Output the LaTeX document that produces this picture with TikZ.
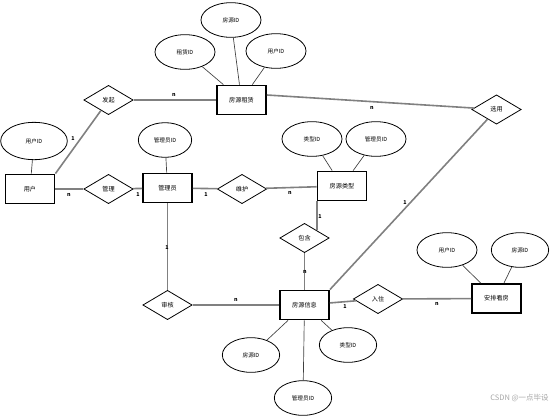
\documentclass[tikz,border=0pt]{standalone}
\usepackage{fontspec}
\newfontfamily\cjk{Noto Sans CJK SC}
\usetikzlibrary{shapes.geometric}

\tikzset{every picture/.style={line width=0.75pt}}
\tikzset{
  entity/.style={draw, line width=1.1pt, minimum width=37pt, minimum height=22pt, inner sep=0pt, font=\cjk\fontsize{4.6}{5}\selectfont},
  attr/.style={draw, ellipse, line width=0.6pt, minimum width=45pt, minimum height=26pt, inner sep=0pt, font=\cjk\fontsize{4.2}{5}\selectfont},
  rel/.style={draw, diamond, line width=0.6pt, minimum width=37pt, minimum height=22pt, inner sep=0pt, font=\cjk\fontsize{4.6}{5}\selectfont},
  conn/.style={draw=gray, line width=1.2pt},
  alink/.style={draw=black!75, line width=0.5pt},
  card/.style={inner sep=0pt, font=\cjk\bfseries\fontsize{4}{4}\selectfont}
}

\begin{document}
\begin{tikzpicture}[x=0.75pt,y=0.75pt,yscale=-1,xscale=1]
    \path[use as bounding box] (0,0) rectangle (554,415);

    % Entities
    \node[entity] (yonghu) at (30,189) {用户};
    \node[entity] (guanliyuan) at (167.5,188) {管理员};
    \node[entity] (zulin) at (241.5,100) {房源租赁};
    \node[entity] (leixing) at (342,186) {房源类型};
    \node[entity] (xinxi) at (304.5,305) {房源信息};
    \node[entity] (kanfang) at (496.5,298.5) {安排看房};

    % Relations
    \node[rel] (faqi) at (108.5,100) {发起};
    \node[rel] (guanli) at (108.5,189) {管理};
    \node[rel] (weihu) at (242,189) {维护};
    \node[rel] (baohan) at (304.5,238) {包含};
    \node[rel] (shenhe) at (167.5,305) {审核};
    \node[rel] (ruzhu) at (378,299) {入住};
    \node[rel] (xuanyong) at (496.5,109.5) {选用};

    % Attributes
    \node[attr, minimum width=50pt, minimum height=28pt] (yonghuid) at (34,141) {用户ID};
    \node[attr, minimum width=40pt] (guanliyuanid) at (165,140) {管理员ID};
    \node[attr] (zulinid) at (185,52) {租赁ID};
    \node[attr] (fangyuanid) at (231,20) {房源ID};
    \node[attr] (yonghuidb) at (276,51) {用户ID};
    \node[attr] (leixingid) at (312,139) {类型ID};
    \node[attr] (guanliyuanidb) at (376,139) {管理员ID};
    \node[attr, minimum width=43pt] (fangyuanidb) at (251,355) {房源ID};
    \node[attr, minimum width=43pt] (guanliyuanidc) at (303,398) {管理员ID};
    \node[attr, minimum width=43pt] (leixingidb) at (348,345) {类型ID};
    \node[attr] (yonghuidc) at (447,250) {用户ID};
    \node[attr, minimum width=43pt] (fangyuanidc) at (520,250) {房源ID};

    % Attribute links
    \draw[alink] (yonghuid) -- (yonghu);
    \draw[alink] (guanliyuanid) -- (guanliyuan);
    \draw[alink] (zulinid) -- (zulin);
    \draw[alink] (fangyuanid) -- (zulin);
    \draw[alink] (yonghuidb) -- (zulin);
    \draw[alink] (leixingid) -- (leixing);
    \draw[alink] (guanliyuanidb) -- (leixing);
    \draw[alink] (fangyuanidb) -- (xinxi);
    \draw[alink] (guanliyuanidc) -- (xinxi);
    \draw[alink] (leixingidb) -- (xinxi);
    \draw[alink] (yonghuidc) -- (kanfang);
    \draw[alink] (fangyuanidc) -- (kanfang);

    % Connectors
    \draw[conn] (yonghu.north east) -- (faqi);
    \draw[conn] (faqi) -- (zulin);
    \draw[conn] (yonghu) -- (guanli);
    \draw[conn] (guanli) -- (guanliyuan);
    \draw[conn] (guanliyuan) -- (weihu);
    \draw[conn] (weihu) -- (leixing);
    \draw[conn] (guanliyuan) -- (shenhe);
    \draw[conn] (shenhe) -- (xinxi);
    \draw[conn] (leixing.south -| baohan.north east) -- (baohan.north east);
    \draw[conn] (baohan) -- (xinxi);
    \draw[conn] (xinxi.north east) -- (xuanyong);
    \draw[conn] ([yshift=-3.75pt]zulin.east) -- (xuanyong);
    \draw[conn] (xinxi) -- (ruzhu);
    \draw[conn] (ruzhu) -- (kanfang);

    % Cardinality labels
    \node[card] (c1) at (73,139) {1};
    \node[card] (c2) at (174,95) {n};
    \node[card] (c3) at (69,195) {n};
    \node[card] (c4) at (138,195) {1};
    \node[card] (c5) at (206,195) {1};
    \node[card] (c6) at (290,193) {n};
    \node[card] (c7) at (167,248) {1};
    \node[card] (c8) at (236,300) {n};
    \node[card] (c9) at (320,217) {1};
    \node[card] (c10) at (305,272) {n};
    \node[card] (c11) at (405,203) {1};
    \node[card] (c12) at (372,108) {n};
    \node[card] (c13) at (345,307) {1};
    \node[card] (c14) at (437,304) {n};

    % Watermark
    \node[anchor=east, inner sep=0pt, text=gray!70, font=\cjk\fontsize{5.6}{6}\selectfont] (wm) at (549,398) {CSDN @一点毕设};

\end{tikzpicture}
\end{document}
